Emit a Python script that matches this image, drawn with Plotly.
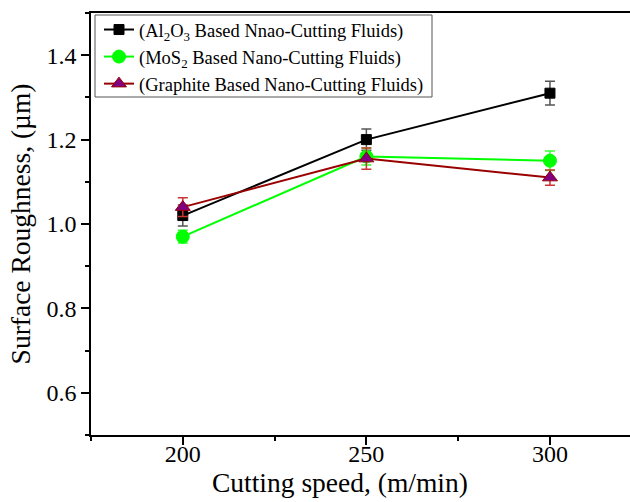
import plotly.graph_objects as go

# Cutting speed (m/min)
speed = [200, 250, 300]

# Surface roughness (µm) and standard deviations for each nano-cutting fluid
al2o3 = [1.02, 1.20, 1.31]
al2o3_err = [0.025, 0.025, 0.028]
mos2 = [0.97, 1.16, 1.15]
mos2_err = [0.015, 0.02, 0.023]
graphite = [1.04, 1.155, 1.11]
graphite_err = [0.022, 0.025, 0.018]

names = [
    "(Al<sub>2</sub>O<sub>3</sub> Based Nnao-Cutting Fluids)",
    "(MoS<sub>2</sub> Based Nano-Cutting Fluids)",
    "(Graphite Based Nano-Cutting Fluids)",
]
y_ticks = [0.6, 0.8, 1.0, 1.2, 1.4]
x_ticks = [200, 250, 300]

FONT = "Liberation Serif, Times New Roman, serif"

# plot area in pixels: left 91, top 13, width 539, height 422
L, T, W, H = 91, 13, 539, 422


def px_x(x):
    return (x - L) / W


def px_y(y):
    return 1 - (y - T) / H


fig = go.Figure()

series = [
    (al2o3, al2o3_err, names[0], "#000000", "#000000", "#000000", "square", 10, "#555555"),
    (mos2, mos2_err, names[1], "#00FF00", "#00FF00", "#00FF00", "circle", 13, "#33FF33"),
    (graphite, graphite_err, names[2], "#990000", "#800080", "#990000", "triangle-up", 13, "#CC3333"),
]

for vals, errs, name, lc, fc, ec, sym, sz, errc in series:
    fig.add_trace(go.Scatter(
        x=speed, y=vals, name=name, mode="lines+markers",
        line=dict(color=lc, width=2),
        marker=dict(symbol=sym, size=sz, color=fc, line=dict(color=ec, width=1)),
        error_y=dict(type="data", array=errs, visible=True, color=errc,
                     thickness=1.5, width=5),
    ))

fig.update_layout(
    width=630, height=502,
    margin=dict(l=L, r=0, t=T, b=502 - T - H),
    paper_bgcolor="white", plot_bgcolor="white",
    font=dict(family=FONT, color="black"),
    showlegend=True,
    legend=dict(
        x=px_x(99), y=px_y(11), xanchor="left", yanchor="top",
        bgcolor="rgba(0,0,0,0)", borderwidth=0,
        font=dict(family=FONT, size=18.5, color="black"),
        tracegroupgap=0, itemwidth=30,
    ),
    shapes=[dict(
        type="rect", xref="paper", yref="paper",
        x0=px_x(95), x1=px_x(432), y0=px_y(97), y1=px_y(15),
        line=dict(color="#555555", width=1), fillcolor="white", layer="below",
    )],
    xaxis=dict(
        range=[175, 321.8], tickvals=x_ticks, ticktext=[str(v) for v in x_ticks],
        showline=True, linecolor="black", linewidth=1.5, mirror=True,
        ticks="outside", ticklen=8, tickwidth=1.5, tickcolor="black",
        ticklabelstandoff=-12,
        minor=dict(dtick=25, tick0=175, ticks="outside", ticklen=4,
                   tickwidth=1.5, tickcolor="black", showgrid=False),
        showgrid=False, zeroline=False,
        tickfont=dict(family=FONT, size=24, color="black"),
    ),
    yaxis=dict(
        range=[0.5, 1.5], tickvals=y_ticks, ticktext=[f"{v:.1f}" for v in y_ticks],
        showline=True, linecolor="black", linewidth=1.5, mirror=False,
        ticks="outside", ticklen=8, tickwidth=1.5, tickcolor="black",
        minor=dict(dtick=0.1, tick0=0.5, ticks="outside", ticklen=4,
                   tickwidth=1.5, tickcolor="black", showgrid=False),
        showgrid=False, zeroline=False,
        tickfont=dict(family=FONT, size=24, color="black"),
        title=dict(text="Surface Roughness, (µm)", standoff=8,
                   font=dict(family=FONT, size=27.5, color="black")),
    ),
    annotations=[dict(
        text="Cutting speed, (m/min)", xref="paper", yref="paper",
        x=px_x(340), y=px_y(482), xanchor="center", yanchor="middle",
        showarrow=False, font=dict(family=FONT, size=27.5, color="black"),
    )],
)

fig.write_html("out.html")
